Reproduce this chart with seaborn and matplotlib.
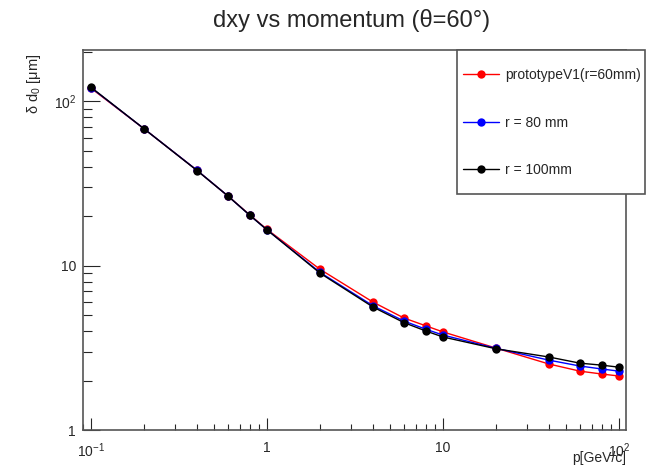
import matplotlib
matplotlib.use('Agg')
import matplotlib.pyplot as plt
import matplotlib.ticker as ticker
from matplotlib.patches import Rectangle
import numpy as np
import pandas as pd
import seaborn as sns

# values
momentum = [0.1, 0.2, 0.4, 0.6, 0.8, 1, 2, 4, 6, 8, 10, 20, 40, 60, 80, 100]
d0_r60 = [120, 68, 38, 26.5, 20.3, 16.6, 9.5, 6.0, 4.8, 4.3, 3.95, 3.15, 2.52, 2.28, 2.19, 2.13]
d0_r80 = [121, 68, 38, 26.5, 20.2, 16.5, 9.1, 5.7, 4.6, 4.1, 3.78, 3.14, 2.66, 2.45, 2.35, 2.28]
d0_r100 = [121.5, 68, 37.9, 26.5, 20.2, 16.5, 9.0, 5.6, 4.5, 4.0, 3.68, 3.12, 2.78, 2.55, 2.48, 2.41]
labels = ['prototypeV1(r=60mm)', 'r = 80 mm', 'r = 100mm']
colors = ['#ff0000', '#0000ff', '#000000']

xtick_vals = [0.1, 1, 10, 100]
xtick_labels = ['$10^{-1}$', '1', '10', '$10^{2}$']
ytick_vals = [1, 10, 100]
ytick_labels = ['1', '10', '$10^{2}$']

df = pd.DataFrame({
    'p': momentum * 3,
    'd0': d0_r60 + d0_r80 + d0_r100,
    'config': [labels[0]] * len(momentum) + [labels[1]] * len(momentum) + [labels[2]] * len(momentum),
})

sns.set_theme(style='ticks')
plt.rcParams['font.family'] = ['Liberation Sans', 'DejaVu Sans']
plt.rcParams['mathtext.default'] = 'regular'

W, H = 654, 468
fig = plt.figure(figsize=(6.54, 4.68), dpi=100)
ax = fig.add_axes([83 / W, 1 - 430 / H, 543 / W, 380 / H])

sns.lineplot(data=df, x='p', y='d0', hue='config', hue_order=labels,
             palette=colors, marker='o', markersize=6, markeredgewidth=0,
             linewidth=1, ax=ax)

ax.set_xscale('log')
ax.set_yscale('log')
ax.set_xlim(0.090, 109.6)
ax.set_ylim(1, 205)

ax.xaxis.set_major_locator(ticker.FixedLocator(xtick_vals))
ax.xaxis.set_major_formatter(ticker.FixedFormatter(xtick_labels))
ax.xaxis.set_minor_locator(ticker.LogLocator(base=10, subs=np.arange(2, 10)))
ax.xaxis.set_minor_formatter(ticker.NullFormatter())
ax.yaxis.set_major_locator(ticker.FixedLocator(ytick_vals))
ax.yaxis.set_major_formatter(ticker.FixedFormatter(ytick_labels))
ax.yaxis.set_minor_locator(ticker.LogLocator(base=10, subs=np.arange(2, 10)))
ax.yaxis.set_minor_formatter(ticker.NullFormatter())

ax.tick_params(axis='x', which='major', direction='in', length=8.5, width=0.8,
               labelsize=10, pad=8, top=False)
ax.tick_params(axis='x', which='minor', direction='in', length=4, width=0.8, top=False)
ax.tick_params(axis='y', which='major', direction='in', length=12, width=0.8,
               labelsize=10, pad=5, right=False)
ax.tick_params(axis='y', which='minor', direction='in', length=6.5, width=0.8, right=False)

for s in ax.spines.values():
    s.set_color('#555555')
    s.set_linewidth(1.2)

ax.set_xlabel('p[GeV/c]', fontsize=10, loc='right')
ax.xaxis.set_label_coords(1.0, -0.056)
ax.set_ylabel('δ d$_0$ [μm]', fontsize=10.5, loc='top')
ax.yaxis.set_label_coords(-0.074, 0.99)

fig.text(352 / W, 1 - 20 / H, 'dxy vs momentum (θ=60°)', ha='center', va='center', fontsize=17)

# legend box like the ROOT TLegend
ax.add_patch(Rectangle((457 / W, 1 - 194 / H), 188 / W, 144 / H, transform=fig.transFigure,
                       facecolor='white', edgecolor='#555555', linewidth=1.2,
                       clip_on=False, zorder=4))
leg = ax.legend(loc='upper left', bbox_to_anchor=(463 / W, 1 - 68 / H),
                bbox_transform=fig.transFigure, fontsize=10,
                frameon=False, borderpad=0, labelspacing=2.42,
                handlelength=2.6, handletextpad=0.45,
                borderaxespad=0, numpoints=1)
leg.set_zorder(5)

fig.savefig('out.png', dpi=100)
